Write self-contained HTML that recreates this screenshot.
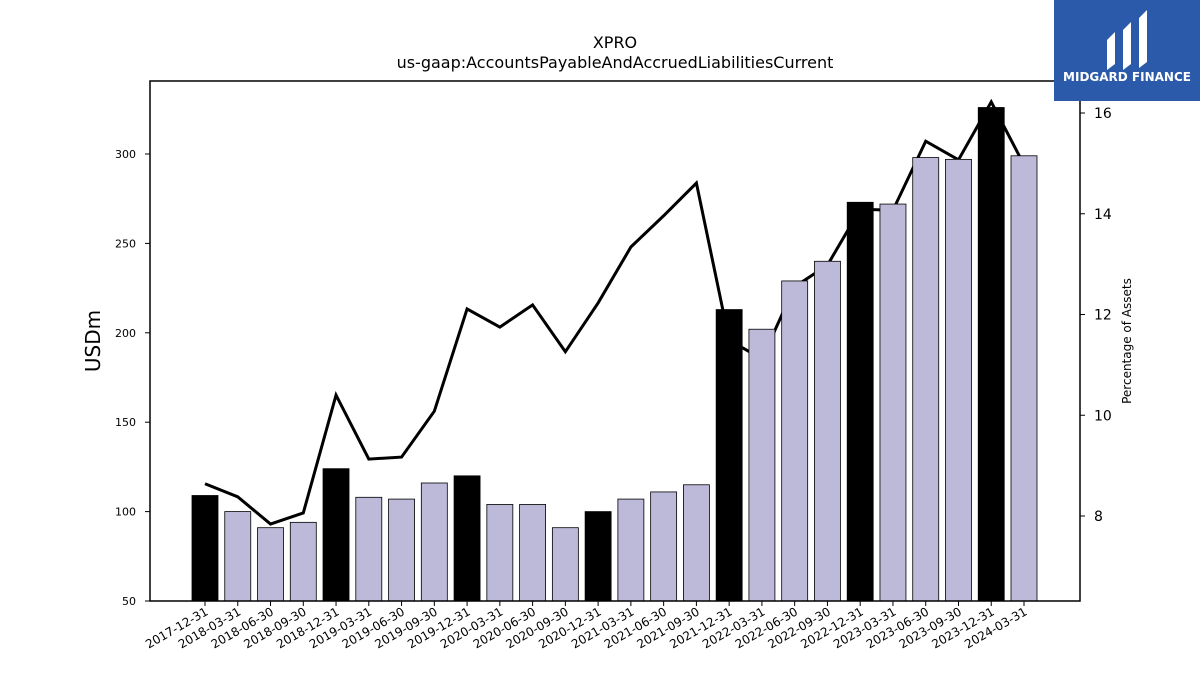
<!DOCTYPE html>
<html><head><meta charset="utf-8"><style>
body{margin:0;background:#fff;font-family:"Liberation Sans",sans-serif;}
svg text{font-family:"DejaVu Sans","Liberation Sans",sans-serif;}
</style></head><body>
<svg id="chart" width="1200" height="675" xmlns="http://www.w3.org/2000/svg">
<text x="615" y="48" font-size="16" text-anchor="middle">XPRO</text>
<text x="615" y="68" font-size="16" text-anchor="middle">us-gaap:AccountsPayableAndAccruedLiabilitiesCurrent</text>
<g id="lineLayer"></g>
<g id="barLayer"></g>
<g id="axes"></g>
<rect x="150" y="81" width="930" height="520" fill="none" stroke="#000" stroke-width="1.5"/>
<text x="100" y="341" font-size="20" text-anchor="middle" transform="rotate(-90 100 341)">USDm</text>
<text x="1131" y="341" font-size="12" text-anchor="middle" transform="rotate(-90 1131 341)">Percentage of Assets</text>
<g>
<rect x="1054" y="0" width="146" height="101" fill="#2b5aab"/>
<path d="M1107 40 l8 -8 v32 l-8 6 z M1123 30 l8 -8 v42 l-8 6 z M1139 18 l8 -8 v52 l-8 6 z" fill="#fff"/>
<text x="1127" y="81" font-size="12" font-weight="bold" fill="#fff" text-anchor="middle" font-family="Liberation Sans">MIDGARD FINANCE</text>
</g>
</svg>
<script>
const categories=["2017-12-31","2018-03-31","2018-06-30","2018-09-30","2018-12-31","2019-03-31","2019-06-30","2019-09-30","2019-12-31","2020-03-31","2020-06-30","2020-09-30","2020-12-31","2021-03-31","2021-06-30","2021-09-30","2021-12-31","2022-03-31","2022-06-30","2022-09-30","2022-12-31","2023-03-31","2023-06-30","2023-09-30","2023-12-31","2024-03-31"];
const barValues=[109,100,91,94,124,108,107,116,120,104,104,91,100,107,111,115,213,202,229,240,273,272,298,297,326,299];
const pctValues=[8.64,8.38,7.84,8.06,10.40,9.13,9.17,10.08,12.11,11.75,12.19,11.26,12.23,13.34,13.96,14.61,11.49,11.12,12.55,12.98,14.09,14.07,15.44,15.07,16.22,14.97];
const leftTicks=[50,100,150,200,250,300];
const rightTicks=[8,10,12,14,16];
const NS="http://www.w3.org/2000/svg";
const x=i=>205+i*(1024-205)/25;
const yL=v=>601-(v-50)*(601-154)/250;
const yR=v=>516-(v-8)*(516-113)/8;
function mk(t,a,p){const e=document.createElementNS(NS,t);for(const k in a)e.setAttribute(k,a[k]);p.appendChild(e);return e;}
const bl=document.getElementById('barLayer'),ll=document.getElementById('lineLayer'),ax=document.getElementById('axes');
let d="";pctValues.forEach((v,i)=>{d+=(i?"L":"M")+x(i)+" "+yR(v)+" ";});
const ln=mk('path',{d:d,fill:"none",stroke:"#000","stroke-width":3,"stroke-linejoin":"miter"},ll);


barValues.forEach((v,i)=>{
 const q4=categories[i].endsWith("12-31");
 const r=mk('rect',{x:x(i)-13,y:yL(v),width:26,height:601-yL(v),fill:q4?"#000":"#bdb9d9",stroke:"#000","stroke-width":0.8},bl);
 
 
 mk('line',{x1:x(i),x2:x(i),y1:601,y2:606,stroke:"#000"},ax);
 const t=mk('text',{x:x(i)+4,y:614,"font-size":12,"text-anchor":"end",transform:`rotate(-30 ${x(i)+4} 614)`},ax);
 t.textContent=categories[i];
 
 
});
leftTicks.forEach(v=>{
 mk('line',{x1:145,x2:150,y1:yL(v),y2:yL(v),stroke:"#000"},ax);
 const t=mk('text',{x:136,y:yL(v)+4,"font-size":11,"text-anchor":"end"},ax);
 t.textContent=v;
 
 
});
rightTicks.forEach(v=>{
 mk('line',{x1:1080,x2:1085,y1:yR(v),y2:yR(v),stroke:"#000"},ax);
 const t=mk('text',{x:1094,y:yR(v)+5,"font-size":14},ax);
 t.textContent=v;
 
 
});
</script>
</body></html>
